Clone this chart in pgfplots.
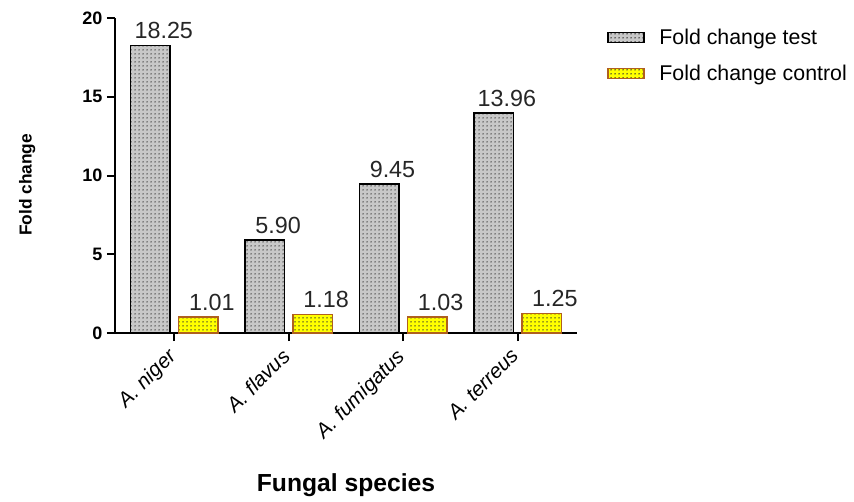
\documentclass[border=0pt]{standalone}
\usepackage{pgfplots}
\pgfplotsset{compat=1.18}
\usepackage{fontspec}
\setmainfont{Liberation Sans}
\usetikzlibrary{patterns}
\definecolor{testgray}{HTML}{C8C8C8}
\definecolor{ctrlyellow}{HTML}{FFFF00}
\definecolor{ctrlborder}{HTML}{B0601E}
\pgfdeclarepatternformonly{bigdots}{\pgfqpoint{-1pt}{-1pt}}{\pgfqpoint{2pt}{2pt}}{\pgfqpoint{3pt}{3pt}}{%
  \pgfpathcircle{\pgfqpoint{0pt}{0pt}}{0.7pt}\pgfusepath{fill}}
\begin{document}
\begin{tikzpicture}
\begin{axis}[
  at={(0,0)}, anchor=south west,
  scale only axis,
  width=346.5pt, height=236.25pt,
  ybar,
  bar width=0.345,
  xmin=-0.52, xmax=3.52,
  ymin=0, ymax=20,
  ytick={0,5,10,15,20},
  xtick={0,1,2,3},
  xticklabels={A. niger,A. flavus,A. fumigatus,A. terreus},
  axis lines=left,
  axis line style={-, line width=1.5pt, black},
  tick align=outside,
  major tick length=6pt,
  tick style={line width=1.5pt, black},
  /pgf/number format/assume math mode=true,
  yticklabel style={font=\bfseries\fontsize{13.5}{15}\selectfont},
  xticklabel style={font=\itshape\fontsize{15.5}{17}\selectfont, xshift=-6pt, yshift=-3pt, rotate=45, anchor=north east, inner sep=1pt},
  ylabel={Fold change},
  ylabel style={font=\bfseries\fontsize{13}{16}\selectfont, at={(axis description cs:-0.19,0.47)}, anchor=center},
  xlabel={Fungal species},
  xlabel style={font=\bfseries\fontsize{18.5}{20}\selectfont, at={(axis description cs:0.5,-0.483)}, anchor=center},
  nodes near coords={\pgfmathprintnumber[fixed,zerofill,precision=2,assume math mode=true]{\pgfplotspointmeta}},
  every node near coord/.append style={font=\fontsize{17.5}{19}\selectfont, black!85, yshift=1pt, xshift=10pt},
  legend style={draw=none, fill=none, at={(axis description cs:1.065,0.975)}, anchor=north west,
    font=\fontsize{16}{18}\selectfont, row sep=10pt, inner sep=0pt,
    /tikz/every odd column/.append style={column sep=9pt}},
  legend cell align=left,
  legend image code/.code={\draw[#1] (0pt,-3.75pt) rectangle (27pt,3.75pt);},
  clip=false,
]
\addplot[bar shift=-0.21, draw=black, line width=1.1pt, fill=testgray,
  postaction={pattern=bigdots, pattern color=black!80}]
  coordinates {(0,18.25) (1,5.90) (2,9.45) (3,13.96)};
\addplot[bar shift=0.21, draw=ctrlborder, line width=1.1pt, fill=ctrlyellow,
  postaction={pattern=bigdots, pattern color=black!80}]
  coordinates {(0,1.01) (1,1.18) (2,1.03) (3,1.25)};
\legend{Fold change test, Fold change control}
\end{axis}
\pgfresetboundingbox
\path[use as bounding box] (-86.25pt,-126pt) rectangle (554.25pt,249.75pt);
\end{tikzpicture}
\end{document}
